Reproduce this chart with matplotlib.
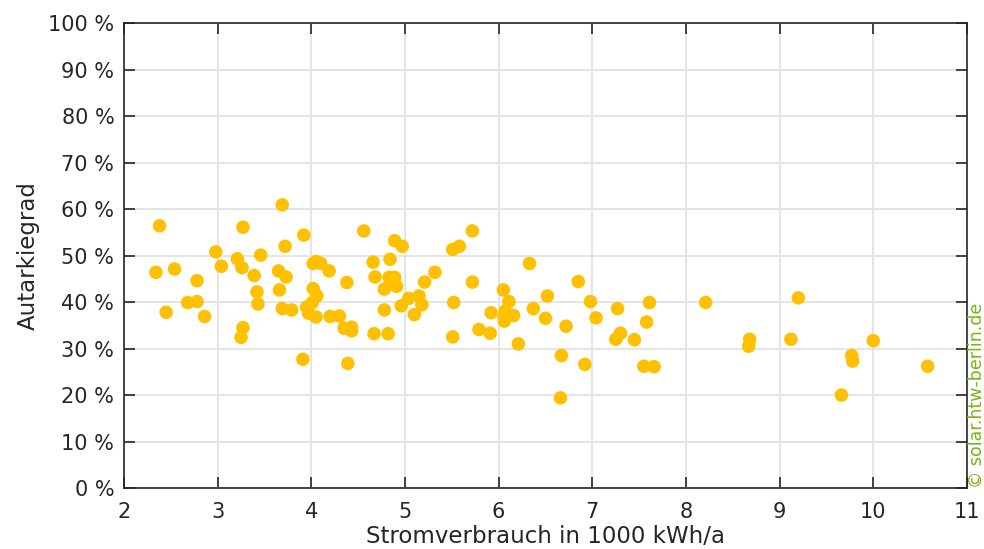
import matplotlib
matplotlib.use("Agg")
import matplotlib.pyplot as plt
from matplotlib.ticker import FuncFormatter

# Stromverbrauch (1000 kWh/a) and Autarkiegrad (%) per system
verbrauch = [
    2.34, 2.38, 2.45, 2.54, 2.68, 2.78, 2.78, 2.86, 2.98, 3.04,
    3.21, 3.25, 3.26, 3.27, 3.27, 3.39, 3.42, 3.43, 3.46, 3.65,
    3.66, 3.69, 3.69, 3.72, 3.73, 3.79, 3.91, 3.92, 3.95, 3.97,
    4.01, 4.02, 4.02, 4.05, 4.05, 4.06, 4.10, 4.19, 4.20, 4.30,
    4.35, 4.38, 4.39, 4.43, 4.43, 4.56, 4.66, 4.67, 4.68, 4.78,
    4.78, 4.82, 4.83, 4.84, 4.89, 4.89, 4.91, 4.96, 4.97, 5.04,
    5.10, 5.15, 5.18, 5.21, 5.32, 5.51, 5.51, 5.52, 5.58, 5.72,
    5.72, 5.79, 5.91, 5.92, 6.05, 6.06, 6.06, 6.07, 6.11, 6.16,
    6.21, 6.33, 6.37, 6.50, 6.52, 6.66, 6.67, 6.72, 6.85, 6.92,
    6.98, 7.04, 7.25, 7.27, 7.30, 7.45, 7.55, 7.58, 7.61, 7.66,
    8.21, 8.67, 8.68, 9.12, 9.20, 9.66, 9.77, 9.78, 10.00, 10.58,
]
autarkie = [
    46.4, 56.4, 37.8, 47.1, 39.9, 40.1, 44.6, 36.9, 50.8, 47.7,
    49.3, 32.4, 47.4, 56.1, 34.5, 45.7, 42.2, 39.6, 50.1, 46.7,
    42.6, 60.9, 38.6, 52.0, 45.4, 38.3, 27.7, 54.4, 38.9, 37.6,
    39.9, 48.3, 42.9, 48.7, 36.8, 41.3, 48.3, 46.7, 36.9, 37.0,
    34.4, 44.2, 26.8, 34.6, 33.8, 55.3, 48.6, 33.2, 45.4, 42.8,
    38.3, 33.2, 45.3, 49.2, 53.2, 45.3, 43.4, 39.2, 52.0, 40.8,
    37.3, 41.3, 39.4, 44.3, 46.4, 51.3, 32.5, 39.9, 52.0, 55.3,
    44.3, 34.1, 33.3, 37.7, 42.6, 35.9, 36.8, 38.1, 40.1, 37.1,
    31.0, 48.3, 38.6, 36.5, 41.3, 19.4, 28.5, 34.8, 44.4, 26.6,
    40.1, 36.6, 32.0, 38.6, 33.3, 31.9, 26.2, 35.7, 39.9, 26.1,
    39.9, 30.5, 32.0, 32.0, 40.9, 20.0, 28.5, 27.3, 31.7, 26.2,
]

plt.rcParams["font.family"] = ["DejaVu Sans"]
dark = "#262626"

fig = plt.figure(figsize=(9.84, 5.49), dpi=100)
ax = fig.add_axes([0.126, 0.111, 0.8567, 0.847])

ax.scatter(verbrauch, autarkie, s=95, color="#FFC000", edgecolor="none", zorder=3)

ax.set_xlim(2, 11)
ax.set_ylim(0, 100)
ax.set_xticks(range(2, 12))
ax.set_yticks(range(0, 101, 10))
ax.yaxis.set_major_formatter(FuncFormatter(lambda v, _: f"{v:.0f} %"))
ax.grid(True, color="#e3e3e3", lw=1.3, zorder=0)
ax.set_axisbelow(True)

ax.tick_params(direction="in", length=8, width=1.2, colors=dark,
               labelsize=15, top=True, right=True, pad=7)
ax.tick_params(axis="x", pad=10)
for sp in ax.spines.values():
    sp.set_color(dark)
    sp.set_linewidth(1.2)

ax.set_xlabel("Stromverbrauch in 1000 kWh/a", fontsize=16.5, color=dark, labelpad=2.5)
ax.set_ylabel("Autarkiegrad", fontsize=16.5, color=dark, labelpad=6)

fig.text(0.9925, 0.111, "© solar.htw-berlin.de", rotation=90, color="#7ab317",
         fontsize=12.5, ha="center", va="bottom")

fig.savefig("out.png", dpi=100)
